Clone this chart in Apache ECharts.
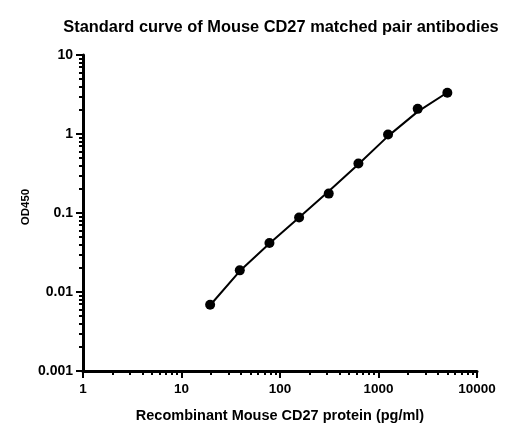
<!DOCTYPE html>
<html><head><meta charset="utf-8">
<script src="https://cdn.jsdelivr.net/npm/echarts@6/dist/echarts.min.js"></script>
<style>html,body{margin:0;padding:0;background:#fff}#c{width:523px;height:437px}</style>
</head><body><div id="c"></div>
<script>
const concentrations = [19.53, 39.06, 78.13, 156.25, 312.5, 625, 1250, 2500, 5000];
const od450 = [0.0069, 0.0188, 0.0418, 0.0875, 0.176, 0.423, 0.986, 2.08, 3.33];
const fitX = [19.53, 39.06, 78.13, 156.25, 312.5, 625, 1250, 2500, 5000];
const fitY = [0.0068, 0.0184, 0.0412, 0.088, 0.188, 0.415, 0.94, 1.92, 3.35];
const xMajorTicks = [1, 10, 100, 1000, 10000];
const yMajorTicks = [0.001, 0.01, 0.1, 1, 10];

function minorsOf(majors) {
  const out = [];
  for (let i = 0; i < majors.length - 1; i++) {
    for (let k = 2; k <= 9; k++) out.push(+(majors[i] * k).toPrecision(6));
  }
  return out;
}

const font = 'Liberation Sans, Arial, sans-serif';
const axisLineStyle = { color: '#000', width: 3 };
const chart = echarts.init(document.getElementById('c'), null, { renderer: 'canvas' });
chart.setOption({
  animation: false,
  title: {
    text: 'Standard curve of Mouse CD27 matched pair antibodies',
    left: 276, top: 14, textAlign: 'center',
    textStyle: { fontFamily: font, fontWeight: 'bold', fontSize: 16.4, color: '#000' }
  },
  grid: { left: 83, right: 46, top: 55, bottom: 66, containLabel: false },
  xAxis: [{
    type: 'log', logBase: 10, min: 1, max: 10000, position: 'bottom',
    name: 'Recombinant Mouse CD27 protein (pg/ml)', nameLocation: 'middle', nameGap: 37,
    nameTextStyle: { fontFamily: font, fontWeight: 'bold', fontSize: 14.5, color: '#000' },
    axisLine: { show: true, lineStyle: axisLineStyle },
    axisTick: { show: true, length: 7, lineStyle: { color: '#000', width: 2 }, customValues: xMajorTicks },
    axisLabel: { show: true, margin: 11, customValues: xMajorTicks, formatter: v => String(v),
      fontFamily: font, fontWeight: 'bold', fontSize: 13.5, color: '#000' },
    splitLine: { show: false }
  }, {
    type: 'log', logBase: 10, min: 1, max: 10000, position: 'bottom', offset: 0,
    axisLine: { show: false },
    axisTick: { show: true, length: 4, lineStyle: { color: '#000', width: 2 }, customValues: minorsOf(xMajorTicks) },
    axisLabel: { show: false }, splitLine: { show: false }
  }],
  yAxis: [{
    type: 'log', logBase: 10, min: 0.001, max: 10, position: 'left',
    name: 'OD450', nameLocation: 'middle', nameGap: 51, nameRotate: 90, nameMoveOverlap: false,
    nameTextStyle: { fontFamily: font, fontWeight: 'bold', fontSize: 11.5, color: '#000', padding: [0, 0, 0, 12] },
    axisLine: { show: true, lineStyle: axisLineStyle },
    axisTick: { show: true, length: 7, lineStyle: { color: '#000', width: 2 }, customValues: yMajorTicks },
    axisLabel: { show: true, margin: 10, customValues: yMajorTicks,
      formatter: v => String(+v.toPrecision(6)),
      fontFamily: font, fontWeight: 'bold', fontSize: 14, color: '#000' },
    splitLine: { show: false }
  }, {
    type: 'log', logBase: 10, min: 0.001, max: 10, position: 'left', offset: 0,
    axisLine: { show: false },
    axisTick: { show: true, length: 4, lineStyle: { color: '#000', width: 2 }, customValues: minorsOf(yMajorTicks) },
    axisLabel: { show: false }, splitLine: { show: false }
  }],
  series: [{
    type: 'line', name: 'fit', data: fitX.map((x, i) => [x, fitY[i]]),
    smooth: false, showSymbol: false, symbol: 'none',
    lineStyle: { color: '#000', width: 2 }, z: 2
  }, {
    type: 'scatter', name: 'data', data: concentrations.map((x, i) => [x, od450[i]]),
    symbol: 'circle', symbolSize: 10, itemStyle: { color: '#000', opacity: 1 }, z: 3
  }]
});
</script></body></html>
